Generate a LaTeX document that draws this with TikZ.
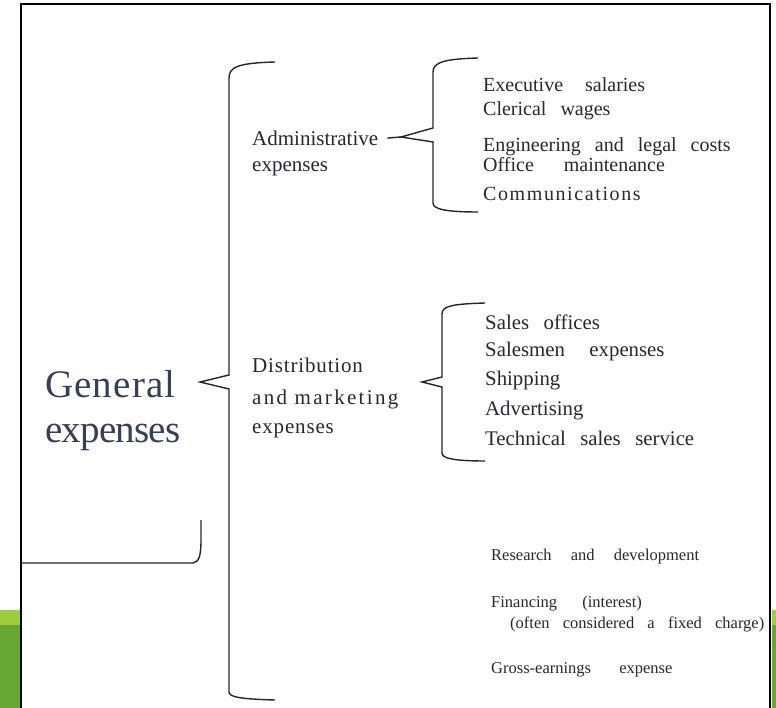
\documentclass[tikz,border=0pt]{standalone}
\usepackage{fontspec}
\setmainfont{Liberation Serif}
\usetikzlibrary{positioning}

\definecolor{txtgray}{RGB}{40,40,45}
\definecolor{gentext}{RGB}{55,62,90}
\definecolor{barlight}{RGB}{157,205,58}
\definecolor{bardark}{RGB}{104,166,52}

\newcommand\itemfont{\fontsize{20}{24}\selectfont\spaceskip 0.7em\relax}
\newcommand\disfont{\fontsize{20.8}{24}\selectfont\spaceskip 0.7em\relax}
\newcommand\smallfont{\fontsize{16.5}{20}\selectfont\spaceskip 0.8em\relax}

\tikzset{
  frameline/.style={line width=2pt, black},
  bracketline/.style={line width=1.4pt, black!85},
  bigtext/.style={anchor=base west, inner sep=0pt, text=gentext, font=\fontsize{39}{44}\selectfont},
  midtext/.style={anchor=base west, inner sep=0pt, text=txtgray, font=\fontsize{21}{25}\selectfont},
  itemtext/.style={anchor=base west, inner sep=0pt, text=txtgray, font=\itemfont},
  disitem/.style={anchor=base west, inner sep=0pt, text=txtgray, font=\disfont},
  smalltext/.style={anchor=base west, inner sep=0pt, text=txtgray, font=\smallfont}
}

\begin{document}
\begin{tikzpicture}[x=1pt,y=-1pt]
\useasboundingbox (0,0) rectangle (776,708);

% green bars at the sides
\fill[barlight] (0,610) rectangle (20,625);
\fill[bardark] (0,625) rectangle (20,708);
\fill[barlight] (772,610) rectangle (776,625);
\fill[bardark] (772,625) rectangle (776,708);
\draw[frameline] (21,708) -- (21,4) -- (770,4) -- (770,708);

% first level
\node[bigtext] (gen1) at (45,397) {\addfontfeature{LetterSpace=3}General};
\node[bigtext] (gen2) at (45,442) {\addfontfeature{LetterSpace=-2}expenses};

% second level
\node[midtext] (adm1) at (252,146) {Administrative};
\node[midtext] (adm2) at (252,172) {expenses};
\node[midtext] (dis1) at (252,373) {\addfontfeature{LetterSpace=4}Distribution};
\node[midtext] (dis2) at (252,404) {\addfontfeature{LetterSpace=11}and marketing};
\node[midtext] (dis3) at (252,433) {\addfontfeature{LetterSpace=4}expenses};

% administrative items
\node[itemtext] (adma) at (483,92) {Executive\hspace{8pt} salaries};
\node[itemtext] (admb) at (483,116) {Clerical wages};
\node[itemtext] (admc) at (483,152) {Engineering and legal costs};
\node[itemtext] (admd) at (483,172) {Office\hspace{16pt} maintenance};
\node[itemtext] (adme) at (483,201) {\addfontfeature{LetterSpace=8}Communications};

% distribution items
\node[disitem] (disa) at (485,330) {Sales offices};
\node[disitem] (disb) at (485,356) {Salesmen\hspace{10pt} expenses};
\node[disitem] (disc) at (485,385) {Shipping};
\node[disitem] (disd) at (485,415) {Advertising};
\node[disitem] (dise) at (485,445) {Technical sales service};

% other items
\node[smalltext] (oth1) at (491,560) {Research\hspace{6pt} and\hspace{6pt} development};
\node[smalltext] (oth2) at (491,607) {Financing\hspace{12pt} (interest)};
\node[smalltext] (oth3) at (510,628) {(often considered a fixed charge)};
\node[smalltext] (oth4) at (491,673) {Gross-earnings\hspace{15pt} expense};

% brackets
\coordinate (maintip) at (200,382);
\draw[bracketline] (275,62) .. controls (238,63) and (229,67) .. (229,78)
  -- (229,375) -- (maintip) -- (229,389) -- (229,692)
  .. controls (229,697) and (240,699) .. (275,700);

\coordinate (admtip) at (401,137);
\draw[bracketline] (478,58) .. controls (445,59) and (433,62) .. (433,72)
  -- (433,128) -- (admtip) -- (433,142) -- (433,203)
  .. controls (433,209) and (445,212) .. (478,212);
\draw[bracketline, shorten <=9pt] (adm1.east) -- (admtip);

\coordinate (distip) at (422,382);
\draw[bracketline] (485,303) .. controls (452,304) and (442,306) .. (442,314)
  -- (442,377) -- (distip) -- (442,387) -- (442,453)
  .. controls (442,458) and (452,461) .. (485,461);

% hook at the lower left
\draw[bracketline] (21,563) -- (193,563) .. controls (199,562) and (201,556) .. (201,540) -- (201,520);
\end{tikzpicture}
\end{document}
